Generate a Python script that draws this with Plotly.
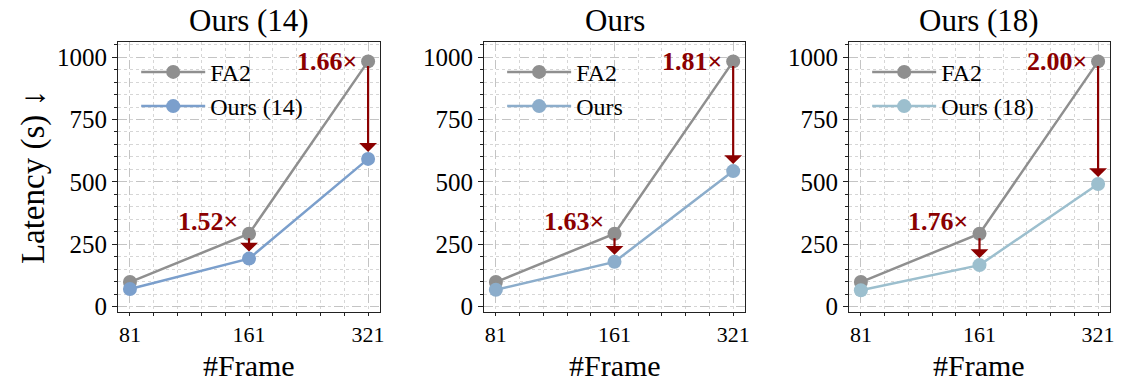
import plotly.graph_objects as go

frames = ["81", "161", "321"]
fa2 = [98, 292, 983]
ours14 = [70, 192, 592]
ours = [67, 179, 543]
ours18 = [65, 166, 491]
speedups14 = ["1.52×", "1.66×"]
speedups = ["1.63×", "1.81×"]
speedups18 = ["1.76×", "2.00×"]
titles = ["Ours (14)", "Ours", "Ours (18)"]
ours_names = ["Ours (14)", "Ours", "Ours (18)"]
ours_series = [ours14, ours, ours18]
speedup_series = [speedups14, speedups, speedups18]
ours_colors = ["#7b9fcc", "#8cadcb", "#9cbfce"]
fa2_color = "#8f8f8f"
arrow_color = "#8b0000"
FONT = "Liberation Serif, Times New Roman, serif"

xdomains = [[0.1041, 0.3351], [0.4268, 0.6570], [0.7487, 0.9788]]
ydomain = [0.179, 0.889]
xpos = list(range(len(frames)))

fig = go.Figure()
for k in range(3):
    xa = "x" if k == 0 else f"x{k+1}"
    ya = "y" if k == 0 else f"y{k+1}"
    lg = "legend" if k == 0 else f"legend{k+1}"
    fig.add_trace(go.Scatter(
        x=xpos, y=fa2, name="FA2", mode="lines+markers",
        line=dict(color=fa2_color, width=2.5),
        marker=dict(color=fa2_color, size=14),
        xaxis=xa, yaxis=ya, legend=lg, legendgroup=f"a{k}"))
    fig.add_trace(go.Scatter(
        x=xpos, y=ours_series[k], name=ours_names[k], mode="lines+markers",
        line=dict(color=ours_colors[k], width=2.5),
        marker=dict(color=ours_colors[k], size=14),
        xaxis=xa, yaxis=ya, legend=lg, legendgroup=f"b{k}"))

    for j, idx in enumerate([1, 2]):
        fig.add_annotation(
            x=xpos[idx], y=ours_series[k][idx], ax=xpos[idx], ay=fa2[idx],
            xref=xa, yref=ya, axref=xa, ayref=ya,
            text="", showarrow=True, arrowhead=1, arrowsize=1.35,
            arrowwidth=2.2, arrowcolor=arrow_color,
            standoff=7, startstandoff=3)
        fig.add_annotation(
            x=xpos[idx], y=fa2[idx], xref=xa, yref=ya,
            text=f"<b>{speedup_series[k][j]}</b>", showarrow=False,
            xanchor="right", yanchor="middle",
            xshift=-9, yshift=12 if idx == 1 else 0,
            font=dict(family=FONT, size=26, color=arrow_color))

    # subplot title
    fig.add_annotation(
        x=sum(xdomains[k]) / 2, y=1.0, xref="paper", yref="paper",
        xanchor="center", yanchor="top", yshift=-1, text=titles[k],
        showarrow=False,
        font=dict(family=FONT, size=31, color="black"))
    # x-axis title
    fig.add_annotation(
        x=sum(xdomains[k]) / 2, y=0.0, xref="paper", yref="paper",
        xanchor="center", yanchor="bottom", yshift=-4, text="#Frame",
        showarrow=False,
        font=dict(family=FONT, size=30, color="black"))

    axis_common = dict(
        showline=True, linecolor="#222", linewidth=1.2, mirror=True,
        ticks="outside", ticklen=5, tickwidth=1.2, tickcolor="#222",
        showgrid=True, gridcolor="#c4c4c4", griddash="dash", gridwidth=1,
        zeroline=False, automargin=False,
        tickfont=dict(family=FONT, size=25, color="black"),
    )
    xaxis = dict(axis_common, domain=xdomains[k], anchor=ya,
                 range=[-0.1, 2.1], tickmode="array", tickvals=xpos,
                 ticktext=frames, ticklen=3,
                 tickfont=dict(family=FONT, size=22, color="black"),
                 minor=dict(tick0=0, dtick=0.2, ticks="outside", ticklen=3,
                            tickcolor="#222", showgrid=True,
                            gridcolor="#d6d6d6", griddash="dot"))
    yaxis = dict(axis_common, domain=ydomain, anchor=xa,
                 range=[-22, 1060], tickmode="array",
                 tickvals=[0, 250, 500, 750, 1000],
                 minor=dict(tick0=0, dtick=50, ticks="outside", ticklen=3,
                            tickcolor="#222", showgrid=True,
                            gridcolor="#d6d6d6", griddash="dot"))
    if k == 0:
        yaxis["title"] = dict(text="Latency (s) ↓", standoff=2,
                              font=dict(family=FONT, size=33, color="black"))
    fig.update_layout({("xaxis" if k == 0 else f"xaxis{k+1}"): xaxis,
                       ("yaxis" if k == 0 else f"yaxis{k+1}"): yaxis})

    fig.update_layout({lg: dict(
        x=xdomains[k][0] + 0.016, y=ydomain[1] - 0.02,
        xanchor="left", yanchor="top", bgcolor="rgba(255,255,255,0)",
        font=dict(family=FONT, size=24, color="black"),
        tracegroupgap=0, itemwidth=64)})

fig.update_layout(
    width=1134, height=380,
    margin=dict(l=0, r=0, t=0, b=0),
    paper_bgcolor="white", plot_bgcolor="white",
    showlegend=True,
)

fig.write_html("out.html", config={"displayModeBar": False},
               post_script="document.body.style.margin='0';document.body.style.padding='0';")
